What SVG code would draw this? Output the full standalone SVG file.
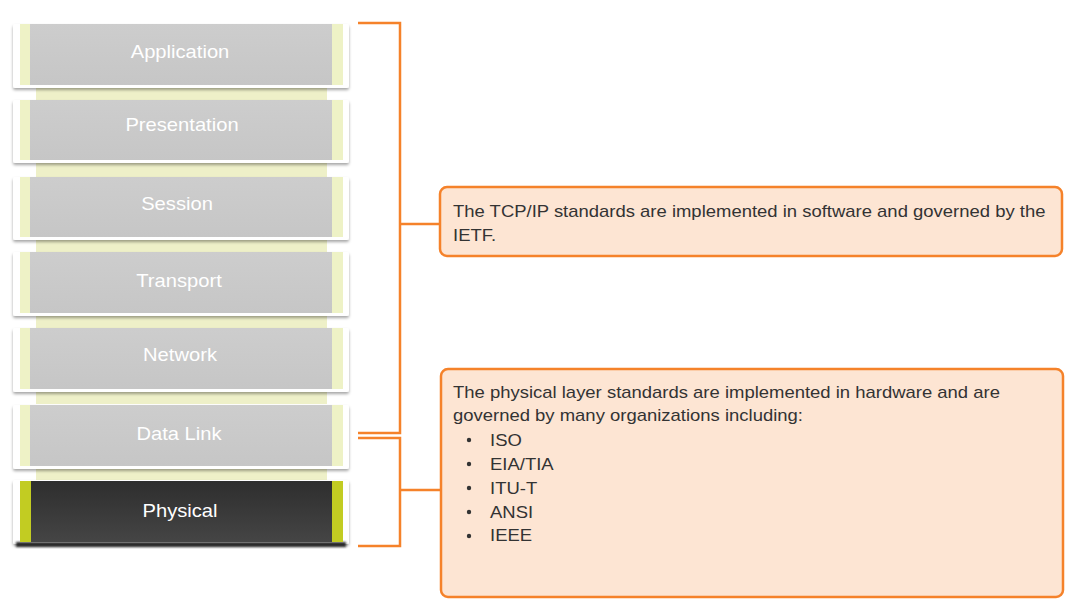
<svg xmlns="http://www.w3.org/2000/svg" width="1079" height="610" viewBox="0 0 1079 610">
<defs>
<linearGradient id="dark" x1="0" y1="0" x2="0" y2="1"><stop offset="0" stop-color="#2e2e2e"/><stop offset="1" stop-color="#454545"/></linearGradient>
<linearGradient id="gray" x1="0" y1="0" x2="0" y2="1"><stop offset="0" stop-color="#cdcdcd"/><stop offset="1" stop-color="#c6c6c6"/></linearGradient>
<filter id="sh" x="-5%" y="-10%" width="110%" height="130%"><feDropShadow dx="0" dy="2" stdDeviation="1.5" flood-color="#000" flood-opacity="0.35"/></filter>
<filter id="blur" x="-5%" y="-50%" width="110%" height="200%"><feGaussianBlur stdDeviation="1"/></filter>
</defs>
<style>
.card{fill:#ffffff;filter:url(#sh)}
.strip{fill:#eef2c6}
.inner{fill:url(#gray)}
.lbl{font-family:"Liberation Sans",Arial,sans-serif;font-size:18px;fill:#ffffff;text-anchor:middle}
.link{fill:#eef0c8}
.br{fill:none;stroke:#f5822a;stroke-width:2.5}
.box{fill:#fde5d3;stroke:#f5822a;stroke-width:2.5}
.txt{font-family:"Liberation Sans",Arial,sans-serif;font-size:16px;fill:#333333}
</style>
<rect width="1079" height="610" fill="#ffffff"/>
<g id="links">
<rect class="link" x="36" y="88" width="291" height="12"/>
<rect class="link" x="36" y="163" width="291" height="14"/>
<rect class="link" x="36" y="240" width="291" height="12"/>
<rect class="link" x="36" y="316" width="291" height="12"/>
<rect class="link" x="36" y="392" width="291" height="12"/>
<rect class="link" x="36" y="468" width="291" height="13" fill="#e2e89a"/>
</g>
<g id="application">
<rect class="card" x="13" y="24" width="336" height="64" rx="2"/>
<rect class="strip" x="20" y="24" width="323" height="61"/>
<rect class="inner" x="30" y="24" width="302" height="61"/>
<text class="lbl" transform="translate(180,58) scale(1.12,1)">Application</text>
</g>
<g id="presentation">
<rect class="card" x="13" y="100" width="336" height="63" rx="2"/>
<rect class="strip" x="20" y="100" width="323" height="60"/>
<rect class="inner" x="30" y="100" width="302" height="60"/>
<text class="lbl" transform="translate(182,131) scale(1.12,1)">Presentation</text>
</g>
<g id="session">
<rect class="card" x="13" y="177" width="336" height="63" rx="2"/>
<rect class="strip" x="20" y="177" width="323" height="60"/>
<rect class="inner" x="30" y="177" width="302" height="60"/>
<text class="lbl" transform="translate(177,210) scale(1.12,1)">Session</text>
</g>
<g id="transport">
<rect class="card" x="13" y="252" width="336" height="64" rx="2"/>
<rect class="strip" x="20" y="252" width="323" height="61"/>
<rect class="inner" x="30" y="252" width="302" height="61"/>
<text class="lbl" transform="translate(179,287) scale(1.12,1)">Transport</text>
</g>
<g id="network">
<rect class="card" x="13" y="328" width="336" height="64" rx="2"/>
<rect class="strip" x="20" y="328" width="323" height="61"/>
<rect class="inner" x="30" y="328" width="302" height="61"/>
<text class="lbl" transform="translate(180,361) scale(1.12,1)">Network</text>
</g>
<g id="datalink">
<rect class="card" x="13" y="405" width="336" height="64" rx="2"/>
<rect class="strip" x="20" y="405" width="323" height="61"/>
<rect class="inner" x="30" y="405" width="302" height="61"/>
<text class="lbl" transform="translate(179,440) scale(1.12,1)">Data Link</text>
</g>
<g id="physical">
<rect class="card" x="13" y="480" width="336" height="64" rx="2"/>
<rect x="16" y="542" width="330" height="5" fill="#2a2a2a" filter="url(#blur)"/>
<rect x="20" y="481" width="323" height="61" fill="#c2cc22"/>
<rect x="31" y="481" width="301" height="61" fill="url(#dark)"/>
<text class="lbl" transform="translate(180,517) scale(1.12,1)">Physical</text>
</g>
<g id="connectors">
<polyline class="br" points="358,23 400,23 400,433 358,433"/>
<line class="br" x1="400" y1="224" x2="440" y2="224"/>
<polyline class="br" points="358,438 400,438 400,546 358,546"/>
<line class="br" x1="400" y1="490" x2="441" y2="490"/>
</g>
<g id="tcpip-box">
<rect class="box" x="440" y="187" width="622" height="69" rx="7"/>
<g transform="translate(453,0) scale(1.155,1)">
<text class="txt" x="0" y="217">The TCP/IP standards are implemented in software and governed by the</text>
<text class="txt" x="0" y="241">IETF.</text>
</g>
</g>
<g id="physical-box">
<rect class="box" x="441" y="369" width="622" height="228" rx="7"/>
<g transform="translate(453,0) scale(1.155,1)">
<text class="txt" x="0" y="398">The physical layer standards are implemented in hardware and are</text>
<text class="txt" x="0" y="421">governed by many organizations including:</text>
</g>
<circle cx="469" cy="440" r="2.2" fill="#333"/>
<circle cx="469" cy="464" r="2.2" fill="#333"/>
<circle cx="469" cy="488" r="2.2" fill="#333"/>
<circle cx="469" cy="512" r="2.2" fill="#333"/>
<circle cx="469" cy="536" r="2.2" fill="#333"/>
<g transform="translate(490,0) scale(1.155,1)">
<text class="txt" x="0" y="446">ISO</text>
<text class="txt" x="0" y="470">EIA/TIA</text>
<text class="txt" x="0" y="494">ITU-T</text>
<text class="txt" x="0" y="518">ANSI</text>
<text class="txt" x="0" y="541">IEEE</text>
</g>
</g>
</svg>
